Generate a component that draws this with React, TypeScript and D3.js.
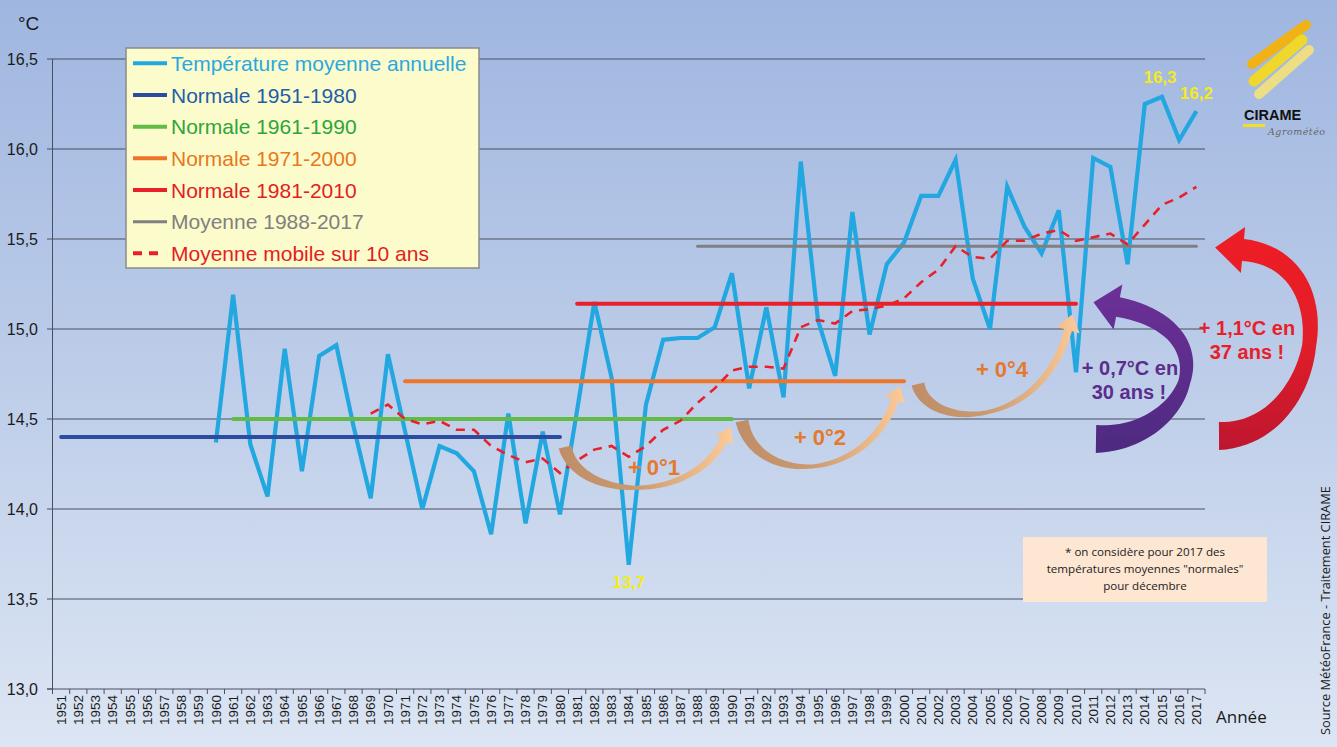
import React from 'react';
import * as d3 from 'd3';

const years = [1951,1952,1953,1954,1955,1956,1957,1958,1959,1960,1961,1962,1963,1964,1965,1966,1967,1968,1969,1970,1971,1972,1973,1974,1975,1976,1977,1978,1979,1980,1981,1982,1983,1984,1985,1986,1987,1988,1989,1990,1991,1992,1993,1994,1995,1996,1997,1998,1999,2000,2001,2002,2003,2004,2005,2006,2007,2008,2009,2010,2011,2012,2013,2014,2015,2016,2017];

const annualStart = 1960;
const annualTemp = [14.37,15.19,14.36,14.07,14.89,14.21,14.85,14.91,14.46,14.06,14.86,14.43,14.00,14.35,14.31,14.21,13.86,14.53,13.92,14.43,13.97,14.55,15.15,14.73,13.69,14.58,14.94,14.95,14.95,15.01,15.31,14.67,15.12,14.62,15.93,15.05,14.74,15.65,14.97,15.36,15.48,15.74,15.74,15.94,15.28,15.00,15.79,15.57,15.42,15.66,14.76,15.95,15.90,15.36,16.25,16.29,16.05,16.21];

const movingStart = 1969;
const movingAvg = [14.53,14.58,14.50,14.47,14.49,14.44,14.44,14.35,14.30,14.26,14.28,14.20,14.27,14.33,14.35,14.29,14.35,14.44,14.49,14.59,14.67,14.77,14.79,14.79,14.78,15.01,15.05,15.03,15.10,15.11,15.13,15.17,15.26,15.33,15.46,15.40,15.39,15.49,15.49,15.53,15.55,15.49,15.51,15.53,15.47,15.58,15.69,15.73,15.79];

const normalLabels = ['Normale 1951-1980','Normale 1961-1990','Normale 1971-2000','Normale 1981-2010','Moyenne 1988-2017'];
const normalFrom = [1951,1961,1971,1981,1988];
const normalTo = [1980,1990,2000,2010,2017];
const normalValues = [14.40,14.50,14.71,15.14,15.46];
const normalColors = ['#2B4C9F','#62BB47','#EE7429','#E8202A','#808080'];
const normalWidths = [4,4,4,4,3];

const yTicks = [13.0,13.5,14.0,14.5,15.0,15.5,16.0,16.5];
const yTickLabels = ['13,0','13,5','14,0','14,5','15,0','15,5','16,0','16,5'];

const extremeYears = [1984,2015,2017];
const extremeLabels = ['13,7','16,3','16,2'];
const extremeOffsets = [17,-20,-18];

const stepLabels = ['+ 0°1','+ 0°2','+ 0°4'];

const legendLabels = ['Température moyenne annuelle', ...normalLabels, 'Moyenne mobile sur 10 ans'];
const legendTextColors = ['#29A8E0','#1F5FAA','#2EA53C','#E8781E','#E31E24','#808080','#E31E24'];
const legendLineColors = ['#22A7E0','#2B4C9F','#62BB47','#EE7429','#E8202A','#808080','#E8202A'];

const noteLines = ['* on considère pour 2017 des', 'températures moyennes  "normales"', 'pour décembre'];

type P = [number, number];

function arrowPath(p0: P, p1: P, p2: P, p3: P, w0: number, wm: number, w1: number, hl: number, hw: number) {
  const bez = (t: number): P => {
    const u = 1 - t;
    return [
      u*u*u*p0[0] + 3*u*u*t*p1[0] + 3*u*t*t*p2[0] + t*t*t*p3[0],
      u*u*u*p0[1] + 3*u*u*t*p1[1] + 3*u*t*t*p2[1] + t*t*t*p3[1],
    ];
  };
  const der = (t: number): P => {
    const u = 1 - t;
    const dx = 3*u*u*(p1[0]-p0[0]) + 6*u*t*(p2[0]-p1[0]) + 3*t*t*(p3[0]-p2[0]);
    const dy = 3*u*u*(p1[1]-p0[1]) + 6*u*t*(p2[1]-p1[1]) + 3*t*t*(p3[1]-p2[1]);
    const l = Math.hypot(dx, dy) || 1;
    return [dx/l, dy/l];
  };
  const N = 48;
  const L: P[] = [], R: P[] = [];
  for (let i = 0; i <= N; i++) {
    const t = i / N;
    const pt = bez(t);
    const d = der(t);
    const n: P = [-d[1], d[0]];
    const w = t < 0.5 ? w0 + (wm - w0) * t * 2 : wm + (w1 - wm) * (t - 0.5) * 2;
    L.push([pt[0] + n[0]*w/2, pt[1] + n[1]*w/2]);
    R.push([pt[0] - n[0]*w/2, pt[1] - n[1]*w/2]);
  }
  const de = der(1);
  const ne: P = [-de[1], de[0]];
  const b1: P = [p3[0] + ne[0]*hw/2, p3[1] + ne[1]*hw/2];
  const tip: P = [p3[0] + de[0]*hl, p3[1] + de[1]*hl];
  const b2: P = [p3[0] - ne[0]*hw/2, p3[1] - ne[1]*hw/2];
  const pts = [...L, b1, tip, b2, ...R.reverse()];
  return 'M' + pts.map(p => p[0].toFixed(1) + ',' + p[1].toFixed(1)).join('L') + 'Z';
}

export default function App() {
  const W = 1337, H = 747;
  const x = d3.scaleBand<number>().domain(years).range([52.5, 1205]).padding(0);
  const y = d3.scaleLinear().domain([13, 16.5]).range([689, 59]);
  const cx = (yr: number) => (x(yr) as number) + x.bandwidth() / 2;

  const annualPts = annualTemp.map((v, i) => [cx(annualStart + i), y(v)] as P);
  const movingPts = movingAvg.map((v, i) => [cx(movingStart + i), y(v)] as P);
  const line = d3.line<P>().x(d => d[0]).y(d => d[1]);

  const font = 'Liberation Sans, Arial, sans-serif';
  const fontH = 'Open Sans, sans-serif';

  const tanArrows = [
    arrowPath([565,447],[578,500],[690,505],[724,440],13,4,8,15,20),
    arrowPath([742,421],[755,485],[865,485],[895,400],13,4,8,15,21),
    arrowPath([918,384],[928,430],[1040,432],[1068,330],13,4,8,16,24),
  ];
  const stepPos: P[] = [[654,467],[820,437],[1002,369]];

  const purple = arrowPath([1096,439],[1185,440],[1235,330],[1118,307],28,12,20,25,46);
  const red = arrowPath([1219,436],[1320,435],[1350,260],[1243,250],28,14,22,28,46);

  return (
    <svg width={W} height={H} style={{ position: 'absolute', left: 0, top: 0, display: 'block' }}>
      <defs>
        <linearGradient id="bg" x1="0" y1="0" x2="0" y2="1">
          <stop offset="0" stopColor="#9FB6E0" />
          <stop offset="0.5" stopColor="#BDCDE9" />
          <stop offset="1" stopColor="#DCE5F3" />
        </linearGradient>
        <linearGradient id="tan" x1="0" y1="0" x2="1" y2="0">
          <stop offset="0" stopColor="#BF8D66" />
          <stop offset="0.45" stopColor="#CB9A70" />
          <stop offset="1" stopColor="#FDCB98" />
        </linearGradient>
        <linearGradient id="purp" x1="0" y1="0" x2="0" y2="1">
          <stop offset="0" stopColor="#6C3097" />
          <stop offset="1" stopColor="#4E2A80" />
        </linearGradient>
        <linearGradient id="redg" x1="0" y1="0" x2="0" y2="1">
          <stop offset="0" stopColor="#EE1D25" />
          <stop offset="0.5" stopColor="#E21E28" />
          <stop offset="1" stopColor="#BE1630" />
        </linearGradient>
      </defs>
      <rect x={0} y={0} width={W} height={H} fill="url(#bg)" />

      {/* grid */}
      {yTicks.map((t, i) => (
        <g key={'g' + i}>
          {i > 0 && <line x1={52.5} x2={1205} y1={y(t)} y2={y(t)} stroke="#4A4F60" strokeWidth={1} />}
          <line x1={47} x2={52.5} y1={y(t)} y2={y(t)} stroke="#4A4F60" strokeWidth={1} />
          <text x={38} y={y(t)} dy="0.36em" textAnchor="end" fontFamily={font} fontSize={16} fill="#1a1a1a">{yTickLabels[i]}</text>
        </g>
      ))}
      <line x1={52.5} x2={52.5} y1={y(16.5)} y2={y(13)} stroke="#4A4F60" strokeWidth={1} />
      <line x1={47} x2={1205} y1={y(13)} y2={y(13)} stroke="#4A4F60" strokeWidth={1.2} />
      {years.map(yr => (
        <line key={'t' + yr} x1={x(yr) as number} x2={x(yr) as number} y1={689} y2={694} stroke="#4A4F60" strokeWidth={1} />
      ))}
      <line x1={1205} x2={1205} y1={689} y2={694} stroke="#4A4F60" strokeWidth={1} />
      {years.map(yr => (
        <text key={'l' + yr} transform={`translate(${cx(yr) + 4.7},695) rotate(-90)`} textAnchor="end" fontFamily={font} fontSize={13.5} fill="#1a1a1a">{yr}</text>
      ))}
      <text x={18} y={30} fontFamily={font} fontSize={19} fill="#1a1a1a">°C</text>
      <text x={1216} y={723} fontFamily={fontH} fontSize={17} fill="#1a1a1a">Année</text>
      <text transform="translate(1330,735) rotate(-90)" fontFamily={fontH} fontSize={12.8} fill="#1a1a1a">Source MétéoFrance - Traitement CIRAME</text>

      {/* annual temperature */}
      <path d={line(annualPts) || ''} fill="none" stroke="#22A7E0" strokeWidth={4.2} strokeLinejoin="miter" />

      {/* normals */}
      {normalValues.map((v, i) => (
        <line key={'n' + i} x1={cx(normalFrom[i])} x2={cx(normalTo[i])} y1={y(v)} y2={y(v)} stroke={normalColors[i]} strokeWidth={normalWidths[i]} strokeLinecap="round" />
      ))}

      {/* moving average */}
      <path d={line(movingPts) || ''} fill="none" stroke="#E8202A" strokeWidth={2.6} strokeDasharray="9,7" />

      {/* extreme labels */}
      {extremeYears.map((yr, i) => (
        <text key={'e' + i} x={cx(yr) - (i === 1 ? 2 : 0)} y={y(annualTemp[yr - annualStart]) + extremeOffsets[i]} dy="0.36em" textAnchor="middle" fontFamily={font} fontWeight="bold" fontSize={17} fill="#F4EA1C">{extremeLabels[i]}</text>
      ))}

      {/* arrows */}
      {tanArrows.map((d, i) => <path key={'a' + i} d={d} fill="url(#tan)" />)}
      {stepLabels.map((s, i) => (
        <text key={'s' + i} x={stepPos[i][0]} y={stepPos[i][1]} dy="0.36em" textAnchor="middle" fontFamily={font} fontWeight="bold" fontSize={22} fill="#E37A2C">{s}</text>
      ))}
      <path d={purple} fill="url(#purp)" />
      <path d={red} fill="url(#redg)" />
      <text x={1130} y={368} dy="0.36em" textAnchor="middle" fontFamily={font} fontWeight="bold" fontSize={20} fill="#5B2D8C">+ 0,7°C en</text>
      <text x={1129} y={392} dy="0.36em" textAnchor="middle" fontFamily={font} fontWeight="bold" fontSize={20} fill="#5B2D8C">30 ans !</text>
      <text x={1247} y={328} dy="0.36em" textAnchor="middle" fontFamily={font} fontWeight="bold" fontSize={20} fill="#E8202A">+ 1,1°C en</text>
      <text x={1247} y={352} dy="0.36em" textAnchor="middle" fontFamily={font} fontWeight="bold" fontSize={20} fill="#E8202A">37 ans !</text>

      {/* legend */}
      <rect x={126} y={48} width={353} height={220} fill="#FCFBCB" stroke="#8A8A8A" strokeWidth={1.5} />
      {legendLabels.map((lab, i) => {
        const yy = 63.3 + i * 31.67;
        const dashed = i === 6;
        return (
          <g key={'lg' + i}>
            <line x1={133} x2={dashed ? 161 : 167} y1={yy} y2={yy} stroke={legendLineColors[i]} strokeWidth={i === 5 ? 3 : 4} strokeDasharray={dashed ? '9,7' : undefined} />
            <text x={171} y={yy} dy="0.36em" fontFamily={font} fontSize={21} fill={legendTextColors[i]}>{lab}</text>
          </g>
        );
      })}

      {/* note */}
      <rect x={1023} y={537} width={244} height={65} fill="#FDE6D2" />
      {noteLines.map((t, i) => (
        <text key={'nt' + i} x={1145} y={552 + i * 17} dy="0.36em" textAnchor="middle" fontFamily={fontH} fontSize={11.6} fill="#222">{t}</text>
      ))}

      {/* logo */}
      <g strokeLinecap="round" opacity={0.95}>
        <line x1={1252} y1={64} x2={1306} y2={25} stroke="#F5B20A" strokeWidth={10} />
        <line x1={1254} y1={81} x2={1302} y2={40} stroke="#F4D923" strokeWidth={11} />
        <line x1={1259} y1={94} x2={1309} y2={50} stroke="#F1E07E" strokeWidth={10} />
      </g>
      <text x={1244} y={120} fontFamily={font} fontWeight="bold" fontSize={14.5} fill="#111">CIRAME</text>
      <rect x={1243} y={124} width={22} height={3} fill="#F3E020" />
      <text x={1268} y={135} fontFamily="DejaVu Serif, serif" fontStyle="italic" fontSize={9.5} fill="#666" letterSpacing={0.5}>Agrométéo</text>
    </svg>
  );
}
